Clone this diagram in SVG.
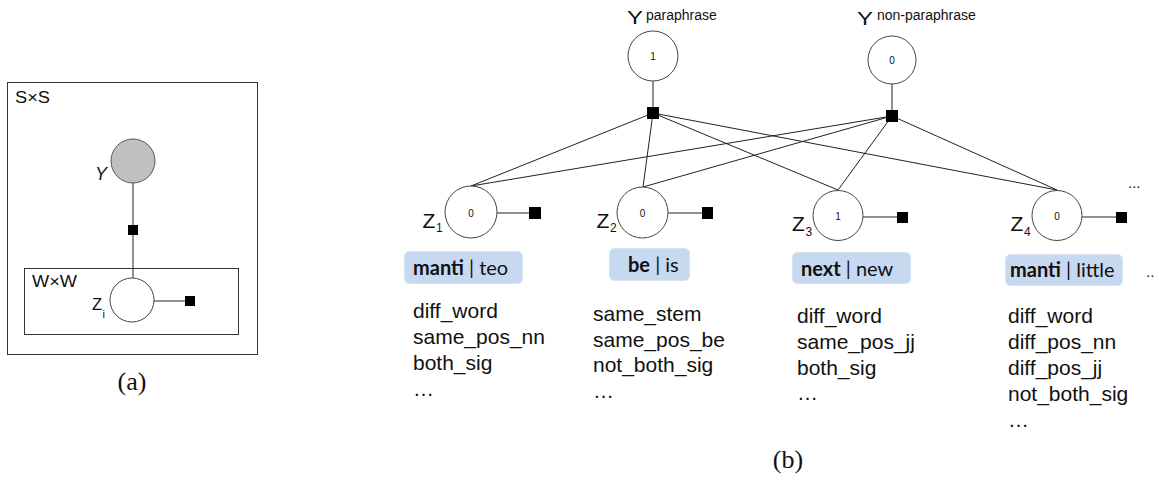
<svg xmlns="http://www.w3.org/2000/svg" width="1159" height="482" viewBox="0 0 1159 482">
<style>
.bg{fill:#fff}
.plate{fill:none;stroke:#333;stroke-width:1}
.node{fill:#fff;stroke:#444;stroke-width:1}
.obs{fill:#c0c0c0;stroke:#555;stroke-width:1}
.fac{fill:#000}
.edge{stroke:#222;stroke-width:1;fill:none}
.sans{font-family:"Liberation Sans",Arial,sans-serif;fill:#111}
.num{font-family:"Liberation Sans",Arial,sans-serif;font-size:10px;fill:#111;text-anchor:middle}
.zl{font-family:"Liberation Sans",Arial,sans-serif;font-size:21px;fill:#111}
.zs{font-family:"Liberation Sans",Arial,sans-serif;font-size:12px;fill:#111}
.feat{font-family:"Liberation Sans",Arial,sans-serif;font-size:21px;fill:#111}
.tag{fill:#c6d9f0;stroke:#d6e2f2;stroke-width:1}
.tagt{font-family:Lato,"Open Sans",sans-serif;font-size:20px;fill:#111}
.cap{font-family:"Liberation Serif","Times New Roman",serif;font-size:26px;fill:#111;text-anchor:middle}
</style>
<rect class="bg" x="0" y="0" width="1159" height="482"/>

<!-- Panel (a) -->
<g id="panel-a">
  <g id="plate-SxS">
    <rect class="plate" x="7.5" y="82.5" width="250" height="272"/>
    <text class="sans" x="15" y="103" font-size="16" textLength="35" lengthAdjust="spacingAndGlyphs">S×S</text>
  </g>
  <g id="plate-WxW">
    <rect class="plate" x="24.5" y="268.5" width="214" height="66"/>
    <text class="sans" x="32" y="287" font-size="16" textLength="45" lengthAdjust="spacingAndGlyphs">W×W</text>
  </g>
  <g id="a-connectors">
    <line class="edge" x1="133" y1="183" x2="133" y2="278"/>
    <line class="edge" x1="154" y1="301" x2="186" y2="301"/>
  </g>
  <g id="a-Y">
    <circle class="obs" cx="133" cy="161" r="22"/>
    <text class="sans" x="95" y="180" font-size="18" font-style="italic">Y</text>
  </g>
  <g id="a-factor-YZ"><rect class="fac" x="128" y="225" width="10" height="10"/></g>
  <g id="a-Z">
    <circle class="node" cx="132" cy="300" r="22"/>
    <text class="sans" x="92" y="310" font-size="16.5">Z</text>
    <text class="sans" x="102.5" y="318" font-size="11">i</text>
  </g>
  <g id="a-factor-Z"><rect class="fac" x="185" y="296" width="10" height="10"/></g>
  <text class="cap" x="132" y="390">(a)</text>
</g>

<!-- Panel (b) connectors -->
<g id="connectors">
  <line class="edge" x1="653" y1="81" x2="653" y2="113"/>
  <line class="edge" x1="892" y1="84" x2="892" y2="116"/>
  <line class="edge" x1="653" y1="113" x2="471" y2="186"/>
  <line class="edge" x1="653" y1="113" x2="643" y2="187"/>
  <line class="edge" x1="653" y1="113" x2="838" y2="190"/>
  <line class="edge" x1="653" y1="113" x2="1057" y2="190"/>
  <line class="edge" x1="892" y1="116" x2="471" y2="186"/>
  <line class="edge" x1="892" y1="116" x2="643" y2="187"/>
  <line class="edge" x1="892" y1="116" x2="838" y2="190"/>
  <line class="edge" x1="892" y1="116" x2="1057" y2="190"/>
  <line class="edge" x1="497" y1="213" x2="535" y2="213"/>
  <line class="edge" x1="668" y1="213" x2="707" y2="213"/>
  <line class="edge" x1="863" y1="217" x2="902" y2="217"/>
  <line class="edge" x1="1082" y1="217" x2="1121" y2="217"/>
</g>

<g id="Y-paraphrase">
  <circle class="node" cx="653" cy="56" r="25"/>
  <text class="num" x="653" y="60">1</text>
  <text class="sans" x="627" y="24" font-size="18" textLength="16" lengthAdjust="spacingAndGlyphs">Y</text>
  <text class="sans" x="646" y="20" font-size="14">paraphrase</text>
</g>
<g id="Y-non-paraphrase">
  <circle class="node" cx="892" cy="60" r="24"/>
  <text class="num" x="892" y="64">0</text>
  <text class="sans" x="857" y="25" font-size="18" textLength="16" lengthAdjust="spacingAndGlyphs">Y</text>
  <text class="sans" x="877" y="20" font-size="14">non-paraphrase</text>
</g>
<g id="factor-paraphrase"><rect class="fac" x="647" y="107" width="12" height="12"/></g>
<g id="factor-non-paraphrase"><rect class="fac" x="886" y="110" width="12" height="12"/></g>

<g id="Z1">
  <circle class="node" cx="471" cy="212" r="26"/>
  <text class="num" x="471" y="216.5">0</text>
  <text class="zl" x="422.5" y="228">Z</text>
  <text class="zs" x="436" y="232">1</text>
  <rect class="fac" x="529" y="207" width="12" height="12"/>
</g>
<g id="Z2">
  <circle class="node" cx="642.5" cy="212.5" r="25.5"/>
  <text class="num" x="642.5" y="217">0</text>
  <text class="zl" x="596.5" y="228">Z</text>
  <text class="zs" x="610" y="232">2</text>
  <rect class="fac" x="702" y="207" width="11" height="12"/>
</g>
<g id="Z3">
  <circle class="node" cx="838" cy="215.5" r="25"/>
  <text class="num" x="838" y="220">1</text>
  <text class="zl" x="792" y="231">Z</text>
  <text class="zs" x="805.5" y="236">3</text>
  <rect class="fac" x="897" y="212" width="11" height="11"/>
</g>
<g id="Z4">
  <circle class="node" cx="1057" cy="215.5" r="25"/>
  <text class="num" x="1057" y="220">0</text>
  <text class="zl" x="1010.5" y="231">Z</text>
  <text class="zs" x="1024" y="236">4</text>
  <rect class="fac" x="1116" y="212" width="11" height="11"/>
</g>
<text class="sans" x="1128" y="188" font-size="15">...</text>

<g id="tag1">
  <rect class="tag" x="404.5" y="251.5" width="118" height="32" rx="5"/>
  <text class="tagt" x="413" y="275"><tspan font-weight="bold">manti</tspan> | teo</text>
</g>
<g id="tag2">
  <rect class="tag" x="609.5" y="248.5" width="80" height="32" rx="5"/>
  <text class="tagt" x="628" y="272"><tspan font-weight="bold">be</tspan> | is</text>
</g>
<g id="tag3">
  <rect class="tag" x="792.5" y="252.5" width="118" height="31" rx="5"/>
  <text class="tagt" x="801" y="276"><tspan font-weight="bold">next</tspan> | new</text>
</g>
<g id="tag4">
  <rect class="tag" x="1005.5" y="254.5" width="117" height="31" rx="5"/>
  <text class="tagt" x="1010" y="277"><tspan font-weight="bold">manti</tspan> | little</text>
</g>
<text class="sans" x="1146" y="277" font-size="15">..</text>

<g id="features1">
  <text class="feat" x="413" y="318">diff_word</text>
  <text class="feat" x="413" y="344">same_pos_nn</text>
  <text class="feat" x="413" y="370">both_sig</text>
  <text class="feat" x="413" y="396">…</text>
</g>
<g id="features2">
  <text class="feat" x="593" y="321">same_stem</text>
  <text class="feat" x="593" y="347">same_pos_be</text>
  <text class="feat" x="593" y="372">not_both_sig</text>
  <text class="feat" x="593" y="398">…</text>
</g>
<g id="features3">
  <text class="feat" x="797" y="323">diff_word</text>
  <text class="feat" x="797" y="349">same_pos_jj</text>
  <text class="feat" x="797" y="375">both_sig</text>
  <text class="feat" x="797" y="400">…</text>
</g>
<g id="features4">
  <text class="feat" x="1008" y="323">diff_word</text>
  <text class="feat" x="1008" y="349">diff_pos_nn</text>
  <text class="feat" x="1008" y="375">diff_pos_jj</text>
  <text class="feat" x="1008" y="401">not_both_sig</text>
  <text class="feat" x="1008" y="427">…</text>
</g>
<text class="cap" x="788" y="468">(b)</text>
</svg>
